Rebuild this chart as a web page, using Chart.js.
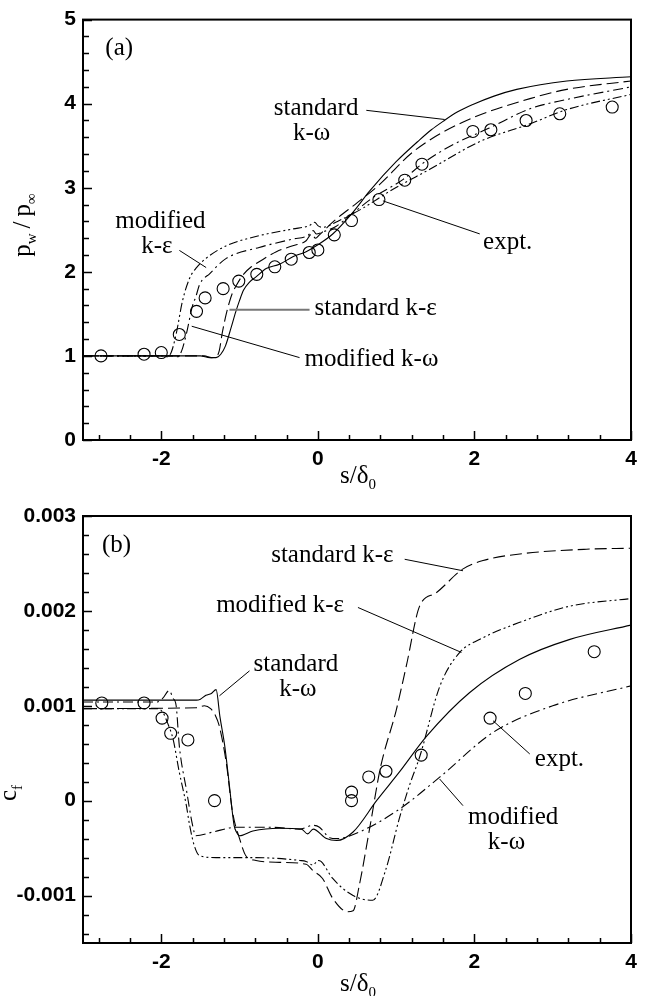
<!DOCTYPE html>
<html>
<head>
<meta charset="utf-8">
<script src="https://cdn.jsdelivr.net/npm/chart.js@4.4.1/dist/chart.umd.min.js"></script>
<style>
  html, body { margin: 0; padding: 0; background: #fff; }
  #wrap { position: relative; width: 653px; height: 996px; }
  .panel { position: absolute; left: 0; width: 653px; }
  #pa { top: 0; height: 496px; }
  #pb { top: 496px; height: 500px; }
</style>
</head>
<body>
<div id="wrap">
  <div class="panel" id="pa"><canvas id="chartA" width="653" height="496"></canvas></div>
  <div class="panel" id="pb"><canvas id="chartB" width="653" height="500"></canvas></div>
</div>
<script>
// ===== Datos: panel (a) p_w / p_inf =====
const xMajor = [-2, 0, 2, 4];
const yMajorA = [0, 1, 2, 3, 4, 5];
const yMajorB = [-0.001, 0, 0.001, 0.002, 0.003];

const exptA_x = [-2.77, -2.22, -2.0, -1.77, -1.55, -1.44, -1.21, -1.01, -0.78, -0.55, -0.34, -0.11, 0.0, 0.21, 0.43, 0.78, 1.11, 1.33, 1.98, 2.21, 2.66, 3.09, 3.76];
const exptA_y = [1.0, 1.02, 1.04, 1.255, 1.53, 1.69, 1.80, 1.89, 1.97, 2.06, 2.15, 2.23, 2.26, 2.44, 2.61, 2.86, 3.09, 3.28, 3.67, 3.69, 3.80, 3.88, 3.96];

// standard k-omega (continua)
const skwA_x = [-3, -1.5, -1.38, -1.3, -1.24, -1.18, -1.11, -1.05, -1.0, -0.95, -0.87, -0.79, -0.66, -0.49, -0.32, -0.15, -0.02, 0.19, 0.45, 0.66, 1.0, 1.3, 1.45, 1.6, 1.78, 1.98, 2.25, 2.54, 3.18, 4.0];
const skwA_y = [1.0, 1.0, 0.98, 0.98, 1.02, 1.12, 1.33, 1.52, 1.66, 1.78, 1.88, 1.94, 2.04, 2.09, 2.18, 2.24, 2.31, 2.45, 2.71, 2.96, 3.31, 3.57, 3.69, 3.79, 3.90, 3.99, 4.09, 4.17, 4.27, 4.32];
// standard k-epsilon (trazos largos)
const skeA_x = [-3, -1.45, -1.36, -1.3, -1.26, -1.22, -1.17, -1.13, -1.09, -1.04, -0.96, -0.85, -0.75, -0.53, -0.32, -0.15, -0.08, -0.03, 0.02, 0.2, 0.5, 0.79, 1.22, 1.85, 2.71, 3.18, 4.0];
const skeA_y = [1.0, 1.0, 0.98, 0.99, 1.06, 1.28, 1.50, 1.64, 1.75, 1.84, 1.96, 2.06, 2.12, 2.24, 2.31, 2.37, 2.45, 2.40, 2.44, 2.60, 2.82, 3.04, 3.43, 3.78, 4.06, 4.17, 4.27];
// modified k-omega (raya-punto)
const mkwA_x = [-3, -1.85, -1.79, -1.74, -1.68, -1.6, -1.56, -1.51, -1.38, -1.17, -0.75, -0.32, -0.13, -0.06, -0.02, 0.05, 0.23, 0.45, 0.70, 1.09, 1.34, 1.7, 2.19, 2.71, 3.18, 4.0];
const mkwA_y = [1.0, 1.0, 0.99, 1.06, 1.26, 1.60, 1.70, 1.85, 1.98, 2.16, 2.29, 2.39, 2.43, 2.49, 2.45, 2.47, 2.54, 2.70, 2.88, 3.10, 3.29, 3.50, 3.71, 3.94, 4.05, 4.20];
// modified k-epsilon (raya-punto-punto)
const mkeA_x = [-3, -2.0, -1.92, -1.87, -1.81, -1.73, -1.64, -1.55, -1.43, -1.17, -0.75, -0.32, -0.11, -0.04, 0.0, 0.06, 0.25, 0.58, 0.92, 1.43, 2.07, 2.71, 3.18, 4.0];
const mkeA_y = [1.0, 1.0, 0.99, 1.05, 1.26, 1.65, 1.92, 2.05, 2.16, 2.31, 2.43, 2.51, 2.55, 2.59, 2.55, 2.53, 2.60, 2.76, 2.96, 3.22, 3.55, 3.76, 3.93, 4.11];

// ===== Datos: panel (b) c_f =====
const exptB_x = [-2.76, -2.22, -1.99, -1.88, -1.66, -1.32, 0.43, 0.43, 0.65, 0.87, 1.32, 2.20, 2.65, 3.53];
const exptB_y = [0.00103, 0.00103, 0.00087, 0.00071, 0.00064, 0.0, 0.00009, 0.0, 0.00025, 0.00031, 0.00048, 0.00087, 0.00113, 0.00157];

const skwB_x = [-3, -1.55, -1.5, -1.43, -1.36, -1.30, -1.25, -1.19, -1.13, -1.07, -1.04, -1.0, -0.83, -0.49, -0.21, -0.13, -0.06, 0.11, 0.24, 0.45, 0.75, 1.04, 1.39, 1.94, 2.58, 3.22, 4.0];
const skwB_y = [0.00106, 0.00106, 0.00107, 0.00111, 0.00113, 0.00117, 0.00088, 0.00058, 0.00016, -0.00026, -0.00033, -0.00037, -0.00032, -0.00029, -0.0003, -0.00035, -0.0003, -0.0004, -0.00042, -0.00033, 0.0, 0.0003, 0.00068, 0.00114, 0.00149, 0.0017, 0.00185];

const skeB_x = [-3, -1.55, -1.45, -1.37, -1.31, -1.26, -1.17, -1.09, -1.0, -0.92, -0.79, -0.49, -0.15, -0.06, 0.06, 0.19, 0.38, 0.45, 0.53, 0.66, 0.8, 1.0, 1.13, 1.30, 1.51, 1.85, 2.11, 2.58, 3.43, 4.0];
const skeB_y = [0.00097, 0.00098, 0.001, 0.00097, 0.0009, 0.00079, 0.0004, -0.00012, -0.0004, -0.00058, -0.00063, -0.00065, -0.00067, -0.00074, -0.00082, -0.00103, -0.00117, -0.00116, -0.00089, -0.0003, 0.00035, 0.00095, 0.00142, 0.00205, 0.00219, 0.00244, 0.00253, 0.0026, 0.00265, 0.00266];

const mkwB_x = [-3, -2.05, -1.98, -1.90, -1.85, -1.81, -1.77, -1.68, -1.60, -1.56, -1.34, -1.04, -0.6, -0.23, -0.06, 0.02, 0.15, 0.24, 0.53, 1.04, 1.56, 2.24, 3.0, 4.0];
const mkwB_y = [0.00104, 0.00104, 0.00108, 0.00116, 0.00108, 0.001, 0.00058, 0.00012, -0.00026, -0.00037, -0.00033, -0.00028, -0.00028, -0.0003, -0.00026, -0.00028, -0.00039, -0.0004, -0.00033, -0.00009, 0.00025, 0.00072, 0.001, 0.00121];

const mkeB_x = [-3, -2.05, -1.98, -1.92, -1.85, -1.77, -1.68, -1.64, -1.58, -1.51, -1.3, -0.8, -0.23, -0.15, -0.06, 0.0, 0.04, 0.19, 0.45, 0.70, 0.87, 1.04, 1.17, 1.30, 1.56, 1.81, 2.07, 2.58, 3.22, 4.0];
const mkeB_y = [0.00097, 0.00097, 0.00093, 0.00082, 0.00065, 0.0003, -0.00005, -0.00025, -0.00047, -0.00058, -0.0006, -0.0006, -0.00063, -0.00064, -0.00068, -0.00063, -0.00064, -0.00082, -0.001, -0.00105, -0.00072, -0.00019, 0.00016, 0.00046, 0.00121, 0.00156, 0.0017, 0.00188, 0.00205, 0.00213];

// ===== Rótulos (en coordenadas de datos) =====
const labelsA = [
  { t: '(a)', x: -2.715, y: 4.58, align: 'left' },
  { t: 'standard', x: -0.023, y: 3.862, align: 'center' },
  { t: 'k-ω', x: -0.081, y: 3.568, align: 'center' },
  { t: 'modified', x: -2.011, y: 2.521, align: 'center' },
  { t: 'k-ε', x: -2.056, y: 2.227, align: 'center' },
  { t: 'standard k-ε', x: -0.042, y: 1.491, align: 'left' },
  { t: 'modified k-ω', x: -0.17, y: 0.882, align: 'left' },
  { t: 'expt.', x: 2.11, y: 2.274, align: 'left' }
];
const leadersA = [
  { x: [0.619, 1.62], y: [3.921, 3.812] },
  { x: [-1.769, -1.427], y: [2.255, 2.051] },
  { x: [-1.129, -0.106], y: [1.549, 1.549], gray: true },
  { x: [-1.611, -0.234], y: [1.353, 0.98] },
  { x: [0.831, 2.068], y: [2.844, 2.451] }
];
const labelsB = [
  { t: '(b)', x: -2.757, y: 0.002621, align: 'left' },
  { t: 'standard k-ε', x: -0.596, y: 0.002516, align: 'left' },
  { t: 'modified k-ε', x: -1.299, y: 0.001986, align: 'left' },
  { t: 'standard', x: -0.281, y: 0.001368, align: 'center' },
  { t: 'k-ω', x: -0.256, y: 0.001105, align: 'center' },
  { t: 'expt.', x: 2.771, y: 0.000368, align: 'left' },
  { t: 'modified', x: 2.494, y: -0.000245, align: 'center' },
  { t: 'k-ω', x: 2.409, y: -0.000508, align: 'center' }
];
const leadersB = [
  { x: [1.109, 1.854], y: [0.002544, 0.002423] },
  { x: [0.512, 1.834], y: [0.002036, 0.001562] },
  { x: [-1.257, -0.873], y: [0.001105, 0.001368] },
  { x: [2.238, 2.707], y: [0.000842, 0.000492] },
  { x: [1.556, 1.854], y: [0.000228, -0.0000526] }
];

// ===== Utilidades =====
const SERIF = '"Liberation Serif", "Times New Roman", serif';
const MAIN = '25px ' + SERIF;
const SUB = '15px ' + SERIF;
const TICKFONT = { family: '"Liberation Sans", Arial, sans-serif', size: 21, weight: 'bold' };

const pts = (xs, ys) => xs.map((x, i) => ({ x, y: ys[i] }));

// marcas menores (no llevan rótulo)
function steps(from, to, step, skip){
  const out = [];
  const n = Math.round((to - from) / step);
  for (let i = 0; i <= n; i++){
    const v = +(from + i * step).toFixed(6);
    if (!skip.some(s => Math.abs(s - v) < step / 10)) out.push(v);
  }
  return out;
}

function line(xs, ys, dash){
  return {
    data: pts(xs, ys),
    showLine: true,
    borderColor: '#000',
    borderWidth: 1.1,
    borderDash: dash,
    pointRadius: 0,
    cubicInterpolationMode: 'monotone',
    fill: false
  };
}
function circles(xs, ys){
  return {
    data: pts(xs, ys),
    showLine: false,
    pointStyle: 'circle',
    pointRadius: 6,
    borderWidth: 1.1,
    borderColor: '#000',
    backgroundColor: 'rgba(0,0,0,0)'
  };
}

function rich(ctx, parts, x, y, rot){
  ctx.save();
  ctx.translate(x, y);
  if (rot) ctx.rotate(rot);
  let w = 0;
  parts.forEach(p => { ctx.font = p.sub ? SUB : MAIN; w += ctx.measureText(p.t).width; });
  let cx = -w / 2;
  parts.forEach(p => {
    ctx.font = p.sub ? SUB : MAIN;
    ctx.fillText(p.t, cx, p.sub ? 6 : 0);
    cx += ctx.measureText(p.t).width;
  });
  ctx.restore();
}

// Decoración: marcas hacia dentro, marco, rótulos, líneas guía y títulos de ejes
function decor(cfg){
  return {
    id: 'decor',
    afterDraw(chart){
      const ctx = chart.ctx, a = chart.chartArea;
      const xs = chart.scales.x, ys = chart.scales.y;
      ctx.save();
      ctx.strokeStyle = '#000';
      ctx.lineWidth = 1.5;
      ctx.beginPath();
      const tickX = (v, len) => { const p = Math.round(xs.getPixelForValue(v)) + 0.5; ctx.moveTo(p, a.bottom); ctx.lineTo(p, a.bottom - len); };
      const tickY = (v, len) => { const p = Math.round(ys.getPixelForValue(v)) + 0.5; ctx.moveTo(a.left, p); ctx.lineTo(a.left + len, p); };
      xMajor.forEach(v => tickX(v, 9));
      cfg.xMinor.forEach(v => tickX(v, 5));
      cfg.yMajor.forEach(v => tickY(v, 9));
      cfg.yMinor.forEach(v => tickY(v, 6));
      ctx.stroke();

      ctx.lineWidth = 2;
      ctx.strokeRect(a.left, a.top, a.right - a.left, a.bottom - a.top);

      // líneas guía
      cfg.leaders.forEach(l => {
        ctx.beginPath();
        ctx.strokeStyle = l.gray ? '#777' : '#000';
        ctx.lineWidth = l.gray ? 2 : 1;
        ctx.moveTo(xs.getPixelForValue(l.x[0]), ys.getPixelForValue(l.y[0]));
        ctx.lineTo(xs.getPixelForValue(l.x[1]), ys.getPixelForValue(l.y[1]));
        ctx.stroke();
      });

      ctx.fillStyle = '#000';
      ctx.textBaseline = 'alphabetic';
      ctx.font = MAIN;
      cfg.labels.forEach(l => {
        ctx.textAlign = l.align;
        ctx.fillText(l.t, xs.getPixelForValue(l.x), ys.getPixelForValue(l.y));
      });

      ctx.textAlign = 'left';
      rich(ctx, cfg.yTitle.parts, cfg.yTitle.x, cfg.yTitle.y, -Math.PI / 2);
      rich(ctx, cfg.xTitle.parts, cfg.xTitle.x, cfg.xTitle.y, 0);
      ctx.restore();
    }
  };
}

function makeChart(canvasId, o){
  return new Chart(document.getElementById(canvasId), {
    type: 'scatter',
    data: { datasets: o.datasets },
    options: {
      responsive: false,
      animation: false,
      events: [],
      layout: { padding: { top: o.padTop, right: 22, left: 0, bottom: 0 } },
      plugins: { legend: { display: false }, tooltip: { enabled: false } },
      scales: {
        x: {
          type: 'linear', min: -3, max: 4,
          grid: { display: false, drawTicks: false },
          border: { display: false },
          ticks: { font: TICKFONT, color: '#000', padding: 7, autoSkip: false, maxRotation: 0, callback: v => String(v) },
          afterBuildTicks: s => { s.ticks = xMajor.map(v => ({ value: v })); },
          afterFit: s => { s.height = o.xAxisH; }
        },
        y: {
          type: 'linear', min: o.yMin, max: o.yMax,
          grid: { display: false, drawTicks: false },
          border: { display: false },
          ticks: { font: TICKFONT, color: '#000', padding: 7, autoSkip: false, callback: v => String(v) },
          afterBuildTicks: s => { s.ticks = o.yMajor.map(v => ({ value: v })); },
          afterFit: s => { s.width = 83; }
        }
      }
    },
    plugins: [decor(o.decor)]
  });
}

const DASH = [12, 5];
const DASHDOT = [10, 4, 2, 4];
const DASHDOTDOT = [9, 3, 2, 3, 2, 3];
const xMinor = steps(-2.8, 3.6, 0.4, xMajor);

makeChart('chartA', {
  padTop: 15, xAxisH: 56, yMin: 0, yMax: 5, yMajor: yMajorA,
  datasets: [
    line(skwA_x, skwA_y, []),
    line(skeA_x, skeA_y, DASH),
    line(mkwA_x, mkwA_y, DASHDOT),
    line(mkeA_x, mkeA_y, DASHDOTDOT),
    circles(exptA_x, exptA_y)
  ],
  decor: {
    xMinor,
    yMajor: yMajorA,
    yMinor: steps(0.2, 4.8, 0.2, yMajorA),
    labels: labelsA,
    leaders: leadersA,
    yTitle: { x: 30, y: 225, parts: [{ t: 'p' }, { t: 'w', sub: true }, { t: '\u2009/\u2009p' }, { t: '∞', sub: true }] },
    xTitle: { x: 358, y: 483, parts: [{ t: 's/δ' }, { t: '0', sub: true }] }
  }
});

makeChart('chartB', {
  padTop: 20, xAxisH: 53, yMin: -0.0015, yMax: 0.003, yMajor: yMajorB,
  datasets: [
    line(skwB_x, skwB_y, []),
    line(skeB_x, skeB_y, DASH),
    line(mkwB_x, mkwB_y, DASHDOT),
    line(mkeB_x, mkeB_y, DASHDOTDOT),
    circles(exptB_x, exptB_y)
  ],
  decor: {
    xMinor,
    yMajor: yMajorB,
    yMinor: steps(-0.0014, 0.0028, 0.0002, yMajorB),
    labels: labelsB,
    leaders: leadersB,
    yTitle: { x: 16, y: 297, parts: [{ t: 'c' }, { t: 'f', sub: true }] },
    xTitle: { x: 358, y: 495, parts: [{ t: 's/δ' }, { t: '0', sub: true }] }
  }
});
</script>
</body>
</html>
